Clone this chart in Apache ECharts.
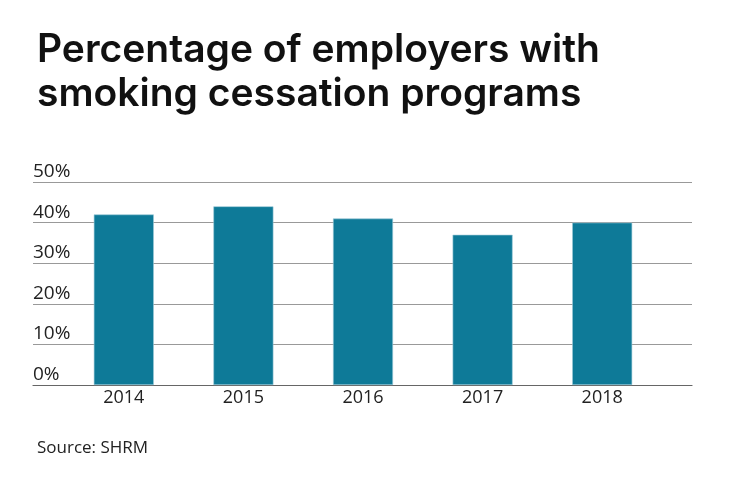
<!DOCTYPE html>
<html>
<head>
<meta charset="utf-8">
<script src="https://cdn.jsdelivr.net/npm/echarts@6/dist/echarts.min.js"></script>
<style>html,body{margin:0;padding:0;background:#fff}#c{width:740px;height:482px}</style>
</head>
<body>
<div id="c"></div>
<script>
const categories = ['2014', '2015', '2016', '2017', '2018'];
const values = [42, 44, 41, 37, 40];
const yTicks = [0, 10, 20, 30, 40, 50];
const titleLines = ['Percentage of employers with', 'smoking cessation programs'];
const sourceText = 'Source: SHRM';

const chart = echarts.init(document.getElementById('c'), null, {renderer: 'canvas'});
const FONT = 'Open Sans';
const option = {
  backgroundColor: '#ffffff',
  animation: false,
  title: [
    {
      text: titleLines.join('\n'),
      left: 32, top: 23,
      textStyle: {fontFamily: 'Inter', fontWeight: 600, fontSize: 39, lineHeight: 44, color: '#111'}
    },
    {
      text: sourceText,
      left: 32, top: 435,
      textStyle: {fontFamily: FONT, fontWeight: 'normal', fontSize: 17, color: '#222'}
    }
  ],
  grid: [
    {left: 33, right: 48, top: 182, height: 203, containLabel: false},
    {left: 64, right: 78, top: 182, height: 203, containLabel: false}
  ],
  xAxis: [
    {
      gridIndex: 0, type: 'value', min: 0, max: 1,
      axisLine: {show: true, lineStyle: {color: '#666', width: 1.2}},
      axisTick: {show: false}, axisLabel: {show: false}, splitLine: {show: false}
    },
    {
      gridIndex: 1, type: 'category', data: categories,
      axisLine: {show: false}, axisTick: {show: false},
      axisLabel: {fontFamily: FONT, fontSize: 18, color: '#222', margin: 4}
    }
  ],
  yAxis: [
    {
      gridIndex: 0, type: 'value', min: yTicks[0], max: yTicks[yTicks.length - 1], interval: 10,
      axisLine: {show: false}, axisTick: {show: false},
      axisLabel: {
        inside: true, margin: 0, align: 'left', verticalAlign: 'bottom',
        padding: [0, 0, 1, 0],
        fontFamily: FONT, fontSize: 19, color: '#222',
        formatter: v => v + '%'
      },
      splitLine: {show: true, lineStyle: {color: '#999', width: 1.2}}
    },
    {
      gridIndex: 1, type: 'value', min: yTicks[0], max: yTicks[yTicks.length - 1],
      show: false, splitLine: {show: false}
    }
  ],
  series: [
    {
      type: 'bar', xAxisIndex: 1, yAxisIndex: 1, data: values,
      barWidth: 60,
      itemStyle: {color: '#0e7a98', borderColor: '#9cc9d6', borderWidth: 0.6},
      z: 3
    }
  ]
};
chart.setOption(option);
</script>
</body>
</html>
